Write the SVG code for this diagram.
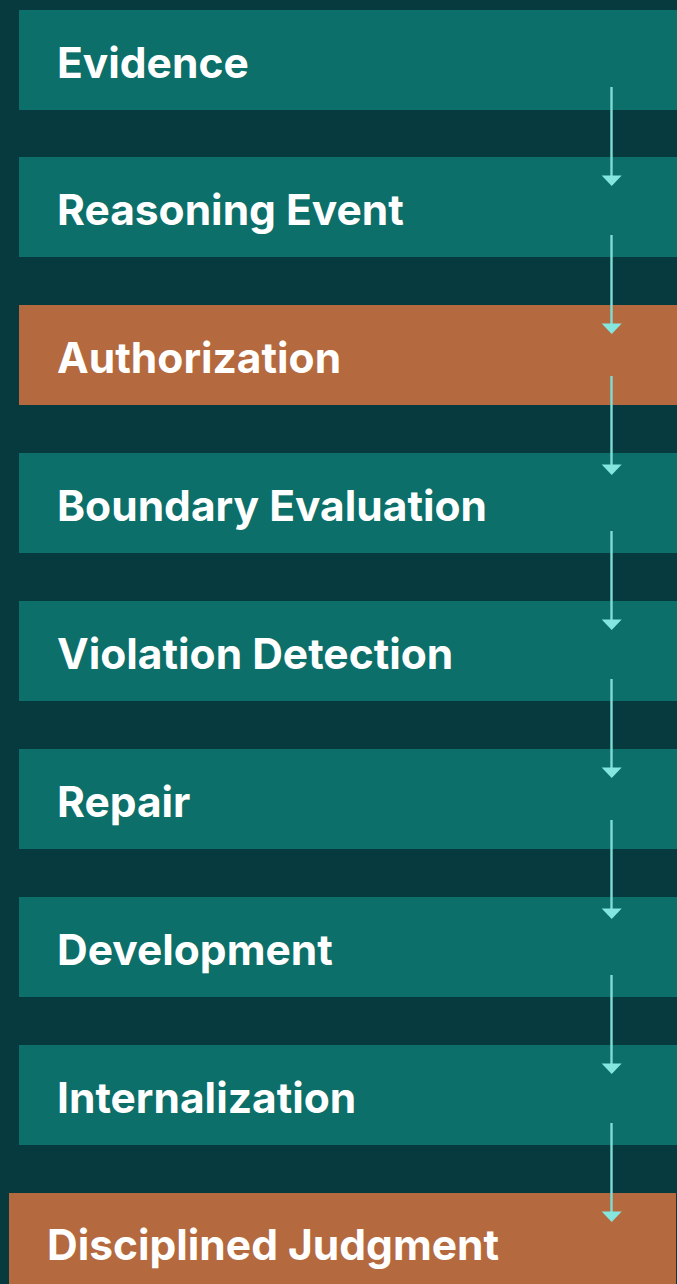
<svg xmlns="http://www.w3.org/2000/svg" width="677" height="1284" viewBox="0 0 677 1284">
<defs>
<style>
.bg{fill:#073a3e}
.box{fill:#0c6f69}
.hl{fill:#b46a3e}
.lbl{font-family:Inter,"Noto Sans","Liberation Sans",sans-serif;font-weight:700;font-size:42.5px;fill:#ffffff}
.arr{stroke:#7fdcd6;stroke-width:2.4;fill:none}
.head{fill:#85e6e0}
</style>
</defs>
<rect class="bg" x="0" y="0" width="677" height="1284"/>
<g id="n1"><rect class="box" x="19" y="10" width="667" height="100"/><text class="lbl" x="57" y="77.5">Evidence</text></g>
<g id="n2"><rect class="box" x="19" y="157" width="667" height="100"/><text class="lbl" x="57" y="224.5">Reasoning Event</text></g>
<g id="n3"><rect class="hl" x="19" y="305" width="667" height="100"/><text class="lbl" x="57" y="372.5">Authorization</text></g>
<g id="n4"><rect class="box" x="19" y="453" width="667" height="100"/><text class="lbl" x="57" y="520.5">Boundary Evaluation</text></g>
<g id="n5"><rect class="box" x="19" y="601" width="667" height="100"/><text class="lbl" x="57" y="668.5">Violation Detection</text></g>
<g id="n6"><rect class="box" x="19" y="749" width="667" height="100"/><text class="lbl" x="57" y="816.5">Repair</text></g>
<g id="n7"><rect class="box" x="19" y="897" width="667" height="100"/><text class="lbl" x="57" y="964.5">Development</text></g>
<g id="n8"><rect class="box" x="19" y="1045" width="667" height="100"/><text class="lbl" x="57" y="1112.5">Internalization</text></g>
<g id="n9"><rect class="hl" x="9" y="1193" width="667" height="100"/><text class="lbl" x="47" y="1259.5">Disciplined Judgment</text></g>
<g id="connectors">
<path class="arr" d="M611.5 87V177"/><path class="head" d="M601.7 175.5H621.7L611.7 186Z"/>
<path class="arr" d="M611.5 235V325"/><path class="head" d="M601.7 323.5H621.7L611.7 334Z"/>
<path class="arr" d="M611.5 376V466"/><path class="head" d="M601.7 464.5H621.7L611.7 475Z"/>
<path class="arr" d="M611.5 531V621"/><path class="head" d="M601.7 619.5H621.7L611.7 630Z"/>
<path class="arr" d="M611.5 679V769"/><path class="head" d="M601.7 767.5H621.7L611.7 778Z"/>
<path class="arr" d="M611.5 820V910"/><path class="head" d="M601.7 908.5H621.7L611.7 919Z"/>
<path class="arr" d="M611.5 975V1065"/><path class="head" d="M601.7 1063.5H621.7L611.7 1074Z"/>
<path class="arr" d="M611.5 1123V1213"/><path class="head" d="M601.7 1211.5H621.7L611.7 1222Z"/>
</g>
</svg>
